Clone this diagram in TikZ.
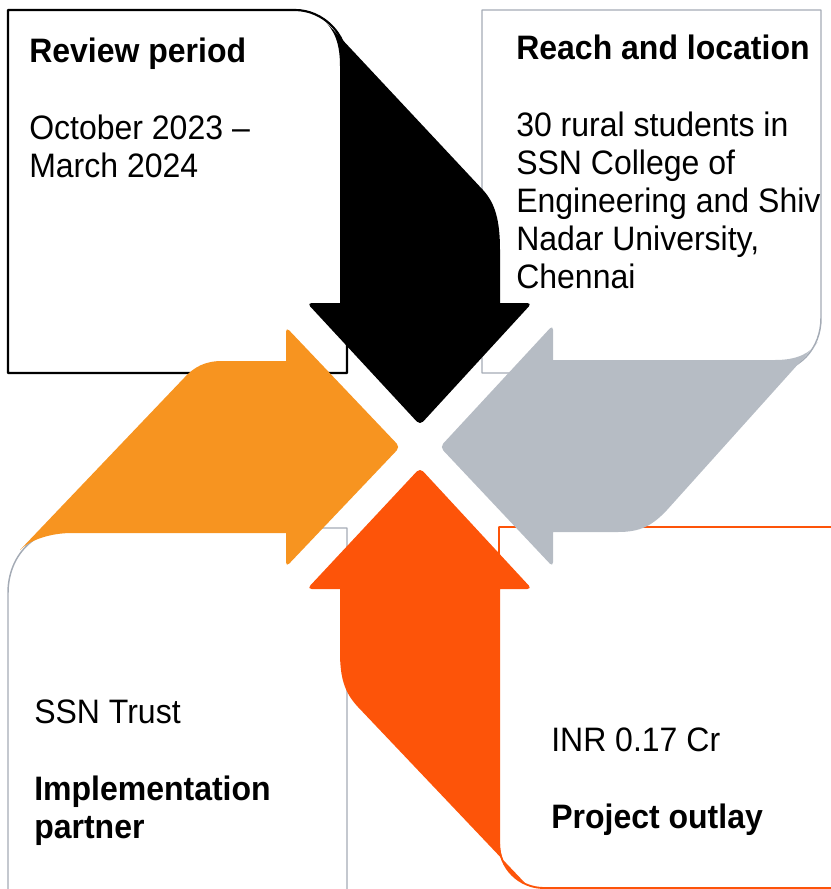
\documentclass[tikz,border=0pt]{standalone}
\usepackage{graphicx}
\usepackage{fontspec}
\setmainfont{Liberation Sans}
\definecolor{arrowgray}{HTML}{B6BCC4}
\definecolor{linegray}{HTML}{A4ABB5}
\definecolor{arroworange}{HTML}{F79420}
\definecolor{arrowred}{HTML}{FD5409}
% slightly taller lettering
\newcommand{\tallline}[1]{\scalebox{1}[1.06]{#1}}
\begin{document}
\begin{tikzpicture}[x=0.75pt,y=-0.75pt,
  bodytext/.style={anchor=base west, inner sep=0pt, font=\fontsize{24}{28}\selectfont},
  headtext/.style={bodytext, font=\fontsize{24}{28}\selectfont\bfseries},
  framebox/.style={line width=1.4pt, line join=round}]
\useasboundingbox (0,0) rectangle (831,889);
\clip (0,0) rectangle (831,889);

% frames of the four panels
\draw[framebox, black, line width=1.6pt] (8,10) -- (295,10)
  .. controls (323,10) and (347,34) .. (347,62) -- (347,373) -- (8,373) -- cycle;
\draw[framebox, linegray, line width=1.1pt] (482,373) -- (482,10) -- (821,10) -- (821,318)
  .. controls (821,348) and (800,373) .. (766,373) -- cycle;
\draw[framebox, arrowred] (840,527) -- (499,527) -- (499,843)
  .. controls (499,868) and (519,888) .. (544,888) -- (840,888);
\draw[framebox, linegray, line width=1.1pt] (347,900) -- (347,528) -- (73,528)
  .. controls (35,528) and (8,555) .. (8,593) -- (8,900);

% arrow from the top-left panel, pointing down
\fill[black] (500,303) [rounded corners=3.5pt] -- (532,303) -- (420,425) -- (307,303)
  [sharp corners] -- (340,303) -- (340,66)
  .. controls (340,42) and (334,30) .. (323,19) -- (483,190)
  .. controls (495,203) and (500,220) .. (500,250) -- cycle;

% arrow from the top-right panel, pointing left
\fill[arrowgray] (553,532) [rounded corners=3.5pt] -- (553,567) -- (440,447) -- (553,325)
  [sharp corners] -- (553,360) -- (775,360)
  .. controls (798,360) and (810,353) .. (818,342) -- (667,510)
  .. controls (652,526) and (640,532) .. (618,532) -- cycle;

% arrow from the bottom-right panel, pointing up
\fill[arrowred] (500,589) [rounded corners=3.5pt] -- (532,589) -- (420,468) -- (307,589)
  [sharp corners] -- (340,589) -- (340,652)
  .. controls (340,679) and (345,693) .. (358,707) -- (525,883)
  .. controls (510,876) and (500,862) .. (500,843) -- cycle;

% arrow from the bottom-left panel, pointing right
\fill[arroworange] (286,361) [rounded corners=3.5pt] -- (286,327) -- (400,447) -- (286,567)
  [sharp corners] -- (286,533) -- (72,533)
  .. controls (50,533) and (30,540) .. (20,550) -- (184,378)
  .. controls (194,367) and (205,361) .. (222,361) -- cycle;

% panel texts
\node[headtext] (periodhead) at (29,62) {\tallline{Review period}};
\node[bodytext] (period1) at (29,139) {\tallline{October 2023 –}};
\node[bodytext] (period2) at (29,177) {\tallline{March 2024}};

\node[headtext] (reachhead) at (516,59) {\tallline{Reach and location}};
\node[bodytext] (reach1) at (516,136) {\tallline{30 rural students in}};
\node[bodytext] (reach2) at (516,174) {\tallline{SSN College of}};
\node[bodytext] (reach3) at (516,212) {\tallline{Engineering and Shiv}};
\node[bodytext] (reach4) at (516,250) {\tallline{Nadar University,}};
\node[bodytext] (reach5) at (516,288) {\tallline{Chennai}};

\node[bodytext] (partner1) at (34,723) {\tallline{SSN Trust}};
\node[headtext] (partnerhead1) at (34,800) {\tallline{Implementation}};
\node[headtext] (partnerhead2) at (34,838) {\tallline{partner}};

\node[bodytext] (outlay1) at (551,751) {\tallline{INR 0.17 Cr}};
\node[headtext] (outlayhead) at (551,828) {\tallline{Project outlay}};
\end{tikzpicture}
\end{document}
